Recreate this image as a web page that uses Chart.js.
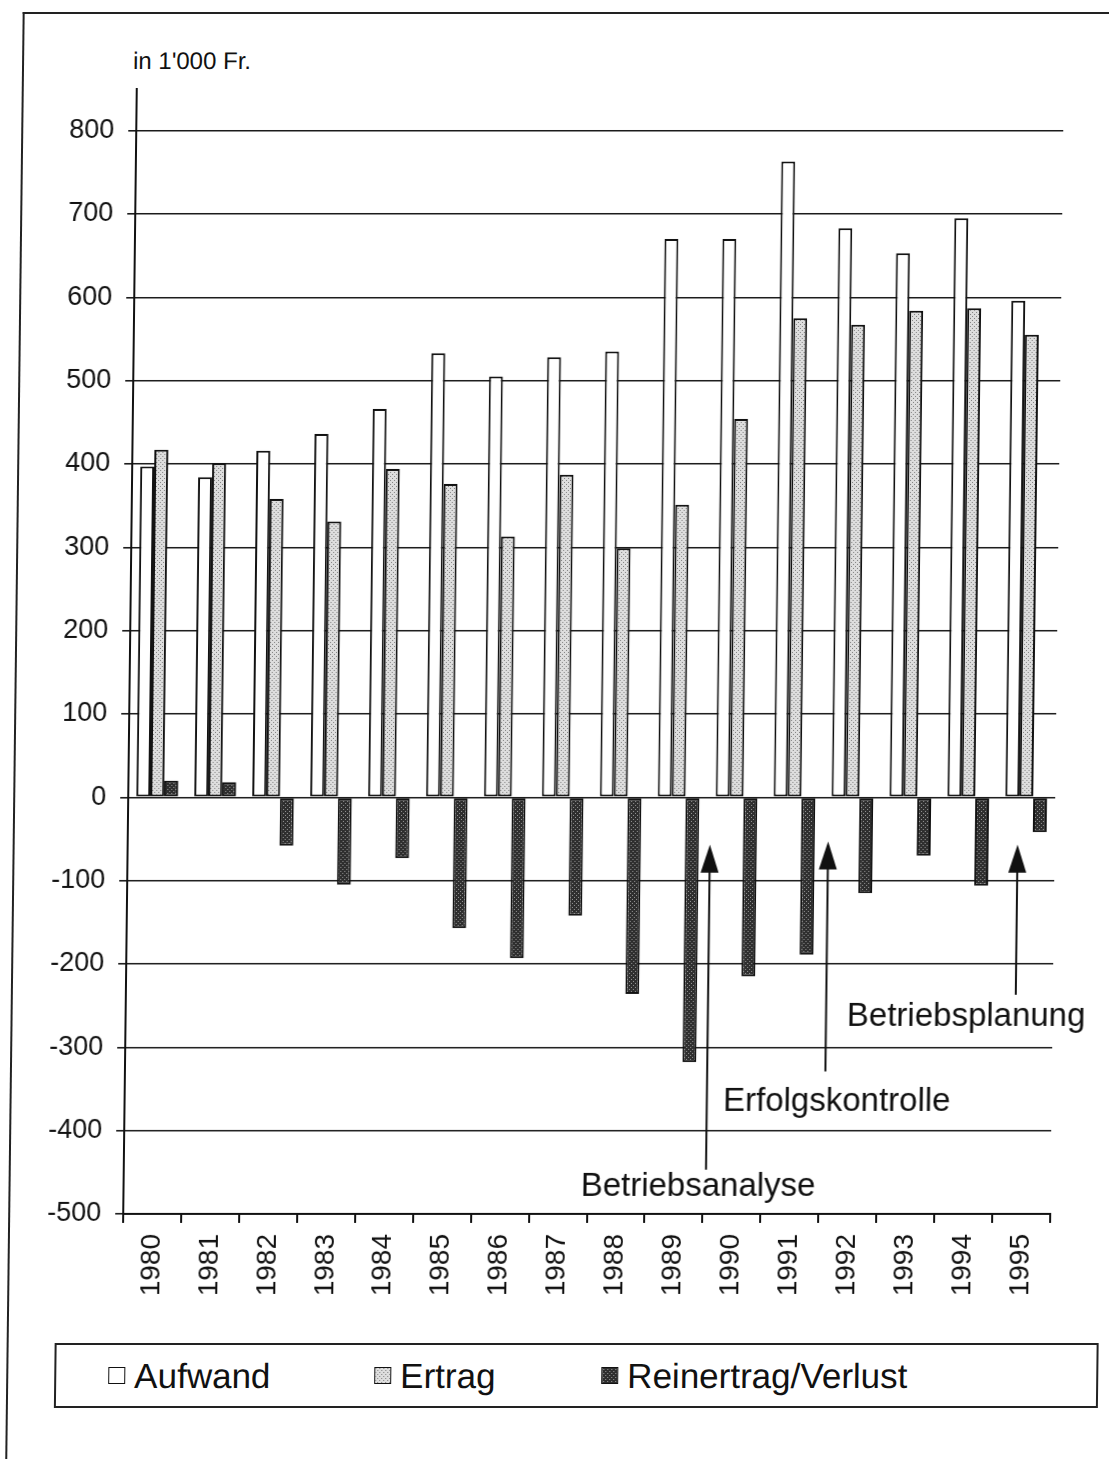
<!DOCTYPE html>
<html><head><meta charset="utf-8">
<script src="https://cdn.jsdelivr.net/npm/chart.js@4"></script>
<style>
html,body{margin:0;padding:0;background:#fff;width:1109px;height:1459px;overflow:hidden;}
#wrap{position:absolute;left:0;top:0;width:1109px;height:1459px;transform:skewX(-0.69deg);transform-origin:0 650px;}
#frame{position:absolute;left:15px;top:12px;width:1300px;height:1700px;border-left:2px solid #222;border-top:2px solid #222;}
#c{position:absolute;left:0;top:0;}
.t{position:absolute;font-family:"Liberation Sans",Arial,sans-serif;color:#111;white-space:nowrap;}
#unit{left:126px;top:47px;font-size:24px;}
#legend{position:absolute;left:63px;top:1343px;width:1040px;height:61px;border:2px solid #222;}
.lg{position:absolute;top:0;height:61px;line-height:61px;font-family:"Liberation Sans",Arial,sans-serif;font-size:35px;color:#111;white-space:nowrap;}
.sw{position:absolute;top:22px;width:15px;height:15px;border:1.5px solid #111;box-sizing:content-box;}
</style>
</head><body>
<div id="wrap">
  <div id="frame"></div>
  <div class="t" id="unit">in 1'000 Fr.</div>
  <canvas id="c" width="1109" height="1330" style="width:1109px;height:1330px"></canvas>
  <div id="legend"></div>
</div>
<script>
// ---- data ----
const years = ['1980','1981','1982','1983','1984','1985','1986','1987','1988','1989','1990','1991','1992','1993','1994','1995'];
const aufwand = [397,384,416,436,466,533,505,528,535,670,670,763,683,653,695,596];
const ertrag  = [417,401,358,331,394,376,313,387,299,351,454,575,567,584,587,555];
const reinertrag = [20,18,-58,-105,-73,-157,-193,-142,-236,-318,-215,-189,-115,-70,-106,-42];
const seriesNames = ['Aufwand','Ertrag','Reinertrag/Verlust'];
const unitLabel = "in 1'000 Fr.";
const annotations = [
  {label:'Betriebsanalyse', arrowAt:9.55, tip:-57, tail:-447, textAt:7.39, textValue:-467},
  {label:'Erfolgskontrolle', arrowAt:11.59, tip:-53, tail:-329, textAt:9.83, textValue:-365},
  {label:'Betriebsplanung', arrowAt:14.86, tip:-57, tail:-237, textAt:11.95, textValue:-263}
];

const FONT = '"Liberation Sans", Arial, sans-serif';

function makePatternCanvas(bg, dot, offs){
  const c = document.createElement('canvas'); c.width = 4; c.height = 4;
  const g = c.getContext('2d');
  g.fillStyle = bg; g.fillRect(0,0,4,4);
  g.fillStyle = dot;
  offs.forEach(p => g.fillRect(p[0],p[1],1,1));
  return c;
}
const ertragCan = makePatternCanvas('#dedede', '#808080', [[0,0],[2,2]]);
const reinCan = makePatternCanvas('#2e2e2e', '#9a9a9a', [[1,1],[3,3]]);

const cv = document.getElementById('c');
const ctx = cv.getContext('2d');
const ertragPat = ctx.createPattern(ertragCan, 'repeat');
const reinPat = ctx.createPattern(reinCan, 'repeat');

document.getElementById('unit').textContent = unitLabel;

// legend (HTML)
const legendText = [141, 407, 634];
const legendBg = ['#ffffff', 'url(' + ertragCan.toDataURL() + ')', 'url(' + reinCan.toDataURL() + ')'];
const lgEl = document.getElementById('legend');
seriesNames.forEach((n, i) => {
  const s = document.createElement('span');
  s.className = 'sw';
  s.style.left = (legendText[i] - 63 - 26) + 'px';
  s.style.background = legendBg[i];
  lgEl.appendChild(s);
  const d = document.createElement('div');
  d.className = 'lg';
  d.style.left = (legendText[i] - 63) + 'px';
  d.textContent = n;
  lgEl.appendChild(d);
});

const annotPlugin = {
  id: 'annot',
  afterDatasetsDraw(chart){
    const c = chart.ctx, xs = chart.scales.x, ys = chart.scales.y;
    c.save();
    c.strokeStyle = '#111'; c.fillStyle = '#111'; c.lineWidth = 2;
    annotations.forEach(a => {
      const x = xs.getPixelForValue(a.arrowAt);
      const yTip = ys.getPixelForValue(a.tip);
      const yTail = ys.getPixelForValue(a.tail);
      const headL = 28, headW = 9;
      c.beginPath(); c.moveTo(x, yTail); c.lineTo(x, yTip + headL - 2); c.stroke();
      c.beginPath(); c.moveTo(x, yTip); c.lineTo(x - headW, yTip + headL); c.lineTo(x + headW, yTip + headL); c.closePath(); c.fill();
      c.font = '33px ' + FONT;
      c.textAlign = 'left'; c.textBaseline = 'middle';
      c.fillText(a.label, xs.getPixelForValue(a.textAt), ys.getPixelForValue(a.textValue));
    });
    c.restore();
  }
};

new Chart(cv, {
  type: 'bar',
  data: {
    labels: years,
    datasets: [
      {label: seriesNames[0], data: aufwand, backgroundColor: '#ffffff', borderColor: '#111', borderWidth: 2, borderSkipped: false},
      {label: seriesNames[1], data: ertrag, backgroundColor: ertragPat, borderColor: '#111', borderWidth: 2, borderSkipped: false},
      {label: seriesNames[2], data: reinertrag, backgroundColor: reinPat, borderColor: '#111', borderWidth: 2, borderSkipped: false}
    ]
  },
  options: {
    responsive: false,
    animation: false,
    devicePixelRatio: 1,
    categoryPercentage: 0.72,
    barPercentage: 1.0,
    layout: {padding: {top: 89, right: 52, left: 0, bottom: 0}},
    plugins: {legend: {display: false}, tooltip: {enabled: false}, title: {display: false}},
    scales: {
      x: {
        offset: true,
        grid: {display: true, drawOnChartArea: false, drawTicks: true, tickLength: 9, color: '#111', lineWidth: 2, offset: true},
        border: {display: true, color: '#111', width: 2},
        ticks: {minRotation: 90, maxRotation: 90, autoSkip: false, padding: 11, color: '#111', font: {family: FONT, size: 28}},
        afterFit(s){ s.height = 1330 - 1214; }
      },
      y: {
        min: -500, max: 850,
        ticks: {stepSize: 100, padding: 14, color: '#111', font: {family: FONT, size: 27}},
        afterBuildTicks(s){ s.ticks = s.ticks.filter(t => t.value <= 800); },
        grid: {color: '#1a1a1a', lineWidth: 1.6, tickLength: 8},
        border: {display: true, color: '#111', width: 2},
        afterFit(s){ s.width = 130; }
      }
    }
  },
  plugins: [annotPlugin]
});
</script>
</body></html>
